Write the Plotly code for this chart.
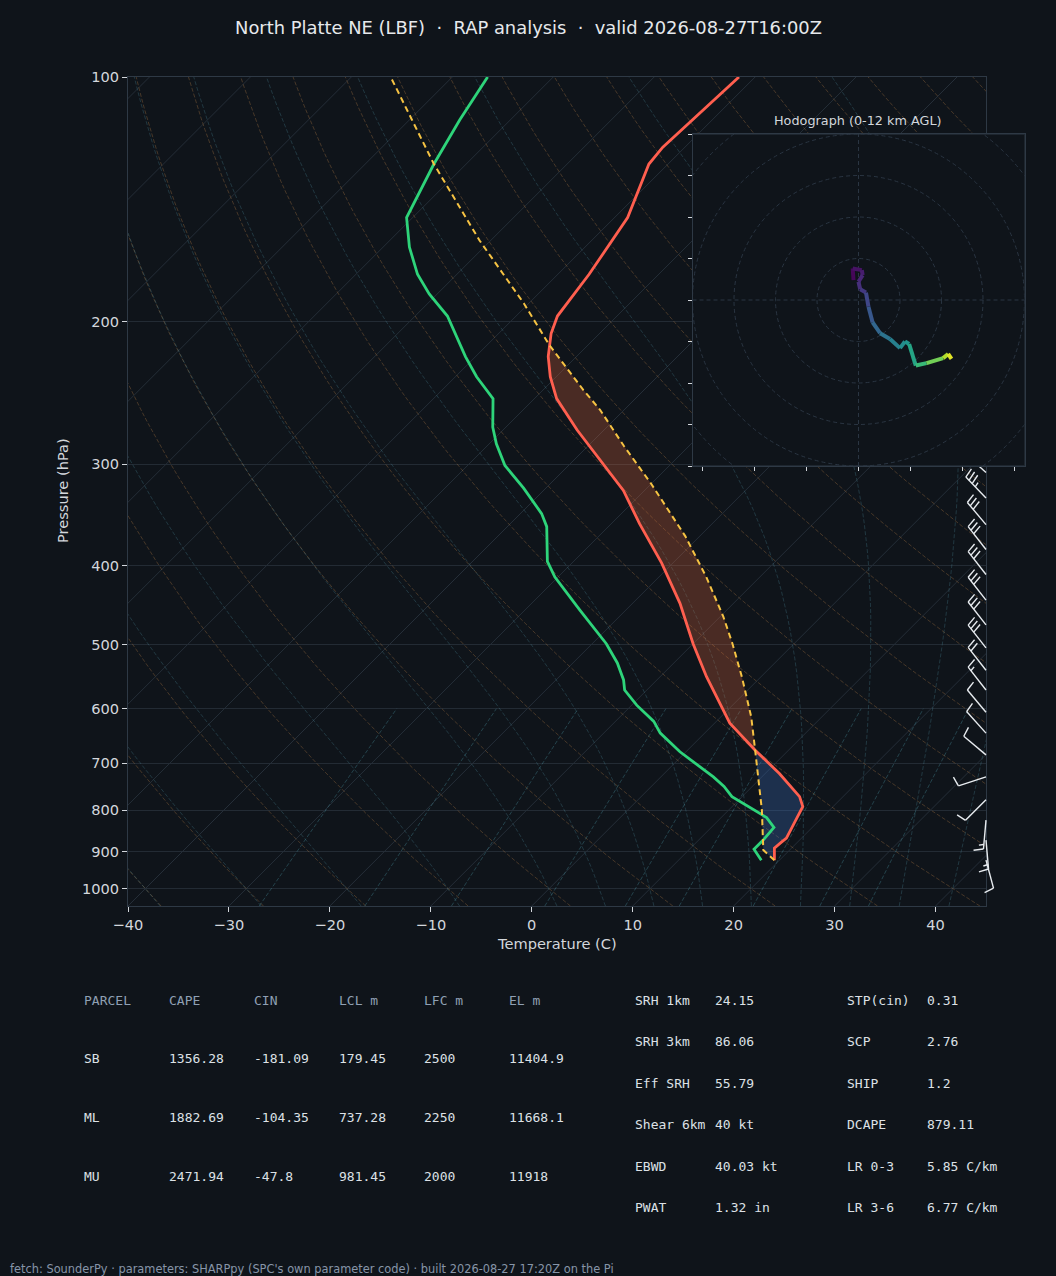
import numpy as np
import plotly.graph_objects as go
from plotly.colors import sample_colorscale

# ---------------------------------------------------------------------------
# LBF sounding, RAP analysis valid 2026-08-27 16Z
# ---------------------------------------------------------------------------
TITLE = ("North Platte NE (LBF)\u00a0\u00a0·\u00a0\u00a0RAP analysis"
         "\u00a0\u00a0·\u00a0\u00a0valid 2026-08-27T16:00Z")
FOOTER = ("fetch: SounderPy · parameters: SHARPpy (SPC's own parameter code)"
          " · built 2026-08-27 17:20Z on the Pi")

# environment temperature (hPa, C)
temp_p = [922, 891, 878, 866, 792, 770, 721, 675, 625, 548, 499, 445, 397, 355,
          323, 298, 272, 249, 234, 221, 214, 207, 197, 175, 149, 128, 122, 100]
temp_c = [19.5, 18.3, 18.4, 18.5, 17.0, 15.7, 11.4, 6.7, 1.5, -5.4, -10.0, -15.3,
          -21.1, -27.2, -32.1, -37.1, -42.7, -47.8, -50.6, -52.8, -53.8, -54.8,
          -55.9, -56.9, -58.7, -61.9, -62.2, -61.6]

# dewpoint (hPa, C)
dwpt_p = [922, 894, 871, 840, 817, 811, 770, 748, 728, 678, 643, 622, 594, 569,
          553, 527, 499, 454, 413, 395, 358, 345, 321, 301, 283, 270, 249, 234,
          221, 197, 185, 175, 162, 149, 128, 113, 100]
dwpt_c = [18.2, 16.4, 16.4, 16.2, 14.5, 13.8, 9.0, 7.2, 5.2, -0.6, -4.4, -6.2,
          -9.5, -12.2, -13.3, -15.6, -18.6, -24.5, -30.3, -32.6, -36.1, -37.9,
          -42.2, -46.3, -49.3, -51.3, -54.1, -57.9, -61.0, -66.8, -70.8, -73.9,
          -77.4, -80.6, -83.2, -85.0, -86.5]

# surface-based parcel path (hPa, C)
prcl_p = [922, 896, 800, 721, 675, 614, 548, 499, 462, 413, 368, 317, 285, 257,
          243, 214, 190, 159, 128, 100]
prcl_c = [19.5, 17.4, 13.3, 9.3, 6.7, 3.0, -1.9, -6.1, -9.7, -15.3, -21.4, -30.0,
          -36.4, -42.4, -46.0, -53.8, -60.5, -71.1, -83.2, -96.1]
LFC_P, EL_P = 675, 214

# wind barbs (hPa, direction deg, speed kt)
barb_p = [922, 871, 823, 777, 728, 684, 643, 606, 569, 538, 505, 473, 441, 410,
          382, 356, 330, 307, 285, 265, 246, 228, 212, 197, 183, 170, 158, 147,
          136, 126]
barb_dir = [165, 175, 185, 225, 252, 310, 318, 320, 322, 322, 322, 322, 322, 322,
            322, 320, 316, 312, 308, 305, 302, 300, 300, 300, 300, 300, 300, 300,
            300, 300]
barb_kt = [10, 15, 15, 10, 10, 10, 10, 10, 15, 20, 30, 30, 30, 30, 30, 30, 35, 40,
           45, 45, 50, 50, 50, 50, 45, 40, 35, 30, 30, 30]

# hodograph 0-12 km (m/s, km AGL)
hodo_u = [-1.2, -1.4, 0.8, 1.0, 0.0, 0.4, 1.8, 2.4, 3.4, 5.2, 7.6, 10.0, 11.2,
          12.2, 13.8, 16.4, 20.4, 21.6, 22.4]
hodo_v = [4.8, 7.6, 7.2, 6.0, 4.4, 2.6, 1.8, -1.6, -5.4, -8.0, -9.4, -11.6, -10.0,
          -10.6, -15.8, -15.2, -14.0, -13.0, -14.2]
hodo_z = [0.0, 0.4, 0.8, 1.1, 1.4, 1.8, 2.2, 2.9, 3.6, 4.2, 4.9, 5.6, 6.0, 6.4,
          7.6, 8.6, 10.2, 11.0, 12.0]

# parcel table
parcel_names = ["SB", "ML", "MU"]
parcel_cape = [1356.28, 1882.69, 2471.94]
parcel_cin = [-181.09, -104.35, -47.8]
parcel_lcl = [179.45, 737.28, 981.45]
parcel_lfc = [2500, 2250, 2000]
parcel_el = [11404.9, 11668.1, 11918]
parcel_cols = ["PARCEL", "CAPE", "CIN", "LCL m", "LFC m", "EL m"]

# SHARPpy indices
left_names = ["SRH 1km", "SRH 3km", "Eff SRH", "Shear 6km", "EBWD", "PWAT"]
left_vals = ["24.15", "86.06", "55.79", "40 kt", "40.03 kt", "1.32 in"]
right_names = ["STP(cin)", "SCP", "SHIP", "DCAPE", "LR 0-3", "LR 3-6"]
right_vals = ["0.31", "2.76", "1.2", "879.11", "5.85 C/km", "6.77 C/km"]

# ---------------------------------------------------------------------------
# layout / skew setup
# ---------------------------------------------------------------------------
W, H = 1056, 1276
PX_L, PX_R, PX_T, PX_B = 128, 986, 77, 906
P_BOT, P_TOP = 1050.0, 100.0
T_MIN, T_MAX = -40.0, 45.0
PPD = (PX_B - PX_T) / np.log10(P_BOT / P_TOP)   # px per decade of p
PPC = (PX_R - PX_L) / (T_MAX - T_MIN)           # px per degree C
SKEW = PPD / PPC                                 # isotherms at 45 deg

BG = "#0f141a"
FG = "#d3d7dc"
SPINE = "#2e3945"
GRID = "#232b34"
TICKFONT = 14.6

RD, CP, LV, EPS = 287.04749, 1004.6662, 2.50084e6, 0.62196


def sx(t, p):
    return np.asarray(t, float) + SKEW * np.log10(P_BOT / np.asarray(p, float))


def joined(curves):
    xs, ys = [], []
    for x, y in curves:
        xs += list(x) + [None]
        ys += list(y) + [None]
    return xs, ys


def pp(x, y):
    return x / W, 1 - y / H


fig = go.Figure()

# ---- background: isotherms, dry/moist adiabats, mixing ratio lines ----
iso = [(sx([t, t], [P_BOT, P_TOP]), [P_BOT, P_TOP]) for t in range(-120, 41, 10)]
x, y = joined(iso)
fig.add_trace(go.Scatter(x=x, y=y, mode="lines", line=dict(color="#252e38", width=1),
                         hoverinfo="skip"))

plev = np.geomspace(P_BOT, P_TOP, 80)
dry_t0 = np.arange(T_MIN, T_MAX + 201, 10)
dry = [(sx((t0 + 273.15) * (plev / 1000.0) ** (RD / CP) - 273.15, plev), plev)
       for t0 in dry_t0]
x, y = joined(dry)
fig.add_trace(go.Scatter(x=x, y=y, mode="lines",
                         line=dict(color="rgba(190,130,70,0.32)", width=1, dash="4px,2px"),
                         hoverinfo="skip"))


def moist_rate(t, lnp):
    p = np.exp(lnp)
    es = 6.112 * np.exp(17.67 * (t - 273.15) / (t - 29.65))
    rs = EPS * es / np.maximum(p - es, 1.0)
    return (RD * t + LV * rs) / (CP + LV * LV * rs * EPS / (RD * t * t))


def rk4(t_start, lnps):
    out = [t_start]
    t = t_start
    for a, b in zip(lnps[:-1], lnps[1:]):
        h = b - a
        k1 = moist_rate(t, a)
        k2 = moist_rate(t + h * k1 / 2, a + h / 2)
        k3 = moist_rate(t + h * k2 / 2, a + h / 2)
        k4 = moist_rate(t + h * k3, b)
        t = t + h * (k1 + 2 * k2 + 2 * k3 + k4) / 6
        out.append(t)
    return np.array(out)


moist_t0 = np.concatenate((np.arange(T_MIN, 0, 10), np.arange(0, 61, 5))) + 273.15
ln_up = np.linspace(np.log(1000.0), np.log(P_TOP), 241)
ln_dn = np.linspace(np.log(1000.0), np.log(P_BOT), 9)
t_up = rk4(moist_t0, ln_up)
t_dn = rk4(moist_t0, ln_dn)
ln_all = np.concatenate((ln_dn[::-1], ln_up[1:]))
t_all = np.concatenate((t_dn[::-1], t_up[1:]))
p_all = np.exp(ln_all)
moist = []
for k in range(len(moist_t0)):
    tk = t_all[:, k]
    ok = np.isfinite(tk)
    moist.append((sx(tk[ok] - 273.15, p_all[ok])[::4], p_all[ok][::4]))
x, y = joined(moist)
fig.add_trace(go.Scatter(x=x, y=y, mode="lines",
                         line=dict(color="rgba(80,150,170,0.27)", width=1, dash="4px,2px"),
                         hoverinfo="skip"))

mix_w = [0.0004, 0.001, 0.002, 0.004, 0.007, 0.01, 0.016, 0.024, 0.032]
pw = np.geomspace(P_BOT, 600.0, 20)
mix = []
for w in mix_w:
    e = pw * w / (EPS + w)
    lg = np.log(e / 6.112)
    mix.append((sx(243.5 * lg / (17.67 - lg), pw), pw))
x, y = joined(mix)
fig.add_trace(go.Scatter(x=x, y=y, mode="lines",
                         line=dict(color="rgba(80,160,175,0.33)", width=1, dash="4px,2px"),
                         hoverinfo="skip"))

# ---- CAPE / CIN shading ----
prp, prc = np.array(prcl_p, float), np.array(prcl_c, float)
tpp, tpc = np.array(temp_p, float), np.array(temp_c, float)

m_p = (prp <= LFC_P) & (prp >= EL_P)
m_t = (tpp <= LFC_P) & (tpp >= EL_P)
fig.add_trace(go.Scatter(
    x=np.concatenate((sx(prc[m_p], prp[m_p]), sx(tpc[m_t], tpp[m_t])[::-1])),
    y=np.concatenate((prp[m_p], tpp[m_t][::-1])),
    mode="lines", line=dict(width=0), fill="toself",
    fillcolor="rgba(212,100,59,0.30)", hoverinfo="skip"))

m_p = prp >= LFC_P
m_t = tpp >= LFC_P
fig.add_trace(go.Scatter(
    x=np.concatenate((sx(prc[m_p], prp[m_p]), sx(tpc[m_t], tpp[m_t])[::-1])),
    y=np.concatenate((prp[m_p], tpp[m_t][::-1])),
    mode="lines", line=dict(width=0), fill="toself",
    fillcolor="rgba(58,110,186,0.32)", hoverinfo="skip"))

# ---- profiles ----
fig.add_trace(go.Scatter(x=sx(temp_c, temp_p), y=temp_p, mode="lines",
                         line=dict(color="#ff5f4f", width=2.8), hoverinfo="skip"))
fig.add_trace(go.Scatter(x=sx(dwpt_c, dwpt_p), y=dwpt_p, mode="lines",
                         line=dict(color="#2ed47a", width=2.8), hoverinfo="skip"))
fig.add_trace(go.Scatter(x=sx(prcl_c, prcl_p), y=prcl_p, mode="lines",
                         line=dict(color="#f6c343", width=2, dash="6px,4px"),
                         hoverinfo="skip"))

# ---- wind barbs (own overlay axes so they are not clipped at the frame) ----
BARB_X = PX_R - PX_L
BARB_LEN, TICK_LEN, TICK_GAP = 29.0, 10.0, 4.5
LEAN = np.deg2rad(12)

bx, by, fx, fy = [], [], [], []


def put(points, xs, ys, p0):
    for ox, oy in points:
        xs.append(BARB_X + ox)
        ys.append(p0 * 10 ** (-oy / PPD))
    xs.append(None)
    ys.append(None)


for p0, wd, kt in zip(barb_p, barb_dir, barb_kt):
    a = np.deg2rad(wd)
    d = np.array([np.sin(a), np.cos(a)])
    perp = np.array([d[1], -d[0]])
    tick = np.cos(LEAN) * perp + np.sin(LEAN) * d
    put([(0, 0), tuple(d * BARB_LEN)], bx, by, p0)
    spd = int(5 * round(kt / 5))
    n50, rem = divmod(spd, 50)
    n10, rem = divmod(rem, 10)
    n5 = rem // 5
    s = BARB_LEN
    for _ in range(n50):
        w = 2 * TICK_GAP
        put([tuple(d * s), tuple(d * (s - w / 2) + TICK_LEN * perp), tuple(d * (s - w)),
             tuple(d * s)], fx, fy, p0)
        s -= w + TICK_GAP * 0.5
    for _ in range(n10):
        put([tuple(d * s), tuple(d * s + TICK_LEN * tick)], bx, by, p0)
        s -= TICK_GAP
    if n5:
        if n50 == 0 and n10 == 0:
            s -= TICK_GAP
        put([tuple(d * s), tuple(d * s + 0.5 * TICK_LEN * tick)], bx, by, p0)

fig.add_trace(go.Scatter(x=bx, y=by, mode="lines", xaxis="x2", yaxis="y2",
                         line=dict(color="#e8ecf0", width=1.4), hoverinfo="skip"))
if fx:
    fig.add_trace(go.Scatter(x=fx, y=fy, mode="lines", xaxis="x2", yaxis="y2",
                             fill="toself", fillcolor="#e8ecf0",
                             line=dict(color="#e8ecf0", width=1), hoverinfo="skip"))

# ---- hodograph inset ----
seg_c = sample_colorscale("Viridis",
                          [(hodo_z[i] + hodo_z[i + 1]) / 24.0 for i in range(len(hodo_z) - 1)])
for i in range(len(hodo_u) - 1):
    fig.add_trace(go.Scatter(x=hodo_u[i:i + 2], y=hodo_v[i:i + 2], mode="lines",
                             xaxis="x3", yaxis="y3",
                             line=dict(color=seg_c[i], width=4), hoverinfo="skip"))

shapes = [dict(type="rect", xref="x3", yref="y3", x0=-40, x1=40, y0=-40, y1=40,
               layer="below", fillcolor=BG, line=dict(color=SPINE, width=1))]
for r in range(10, 51, 10):
    shapes.append(dict(type="circle", xref="x3", yref="y3", x0=-r, x1=r, y0=-r, y1=r,
                       layer="below", line=dict(color="#2a3542", width=1, dash="4px,3px")))
shapes.append(dict(type="line", xref="x3", yref="y3", x0=-40, x1=40, y0=0, y1=0,
                   layer="below", line=dict(color="#2a3542", width=1, dash="4px,3px")))
shapes.append(dict(type="line", xref="x3", yref="y3", x0=0, x1=0, y0=-40, y1=40,
                   layer="below", line=dict(color="#2a3542", width=1, dash="4px,3px")))

# ---- text ----
ann = []


def label(x_px, y_px, text, size, color, anchor="left", family=None, angle=0):
    tx, ty = pp(x_px, y_px)
    f = dict(size=size, color=color)
    if family:
        f["family"] = family
    ann.append(dict(x=tx, y=ty, xref="paper", yref="paper", text=text, showarrow=False,
                    xanchor=anchor, yanchor="middle", textangle=angle, font=f))


label(W / 2, 27, TITLE, 17.9, "#e6e9ec", "center")
label(557, 943, "Temperature (C)", TICKFONT, FG, "center")
label(63, 491, "Pressure (hPa)", TICKFONT, FG, "center", angle=-90)
label(858, 120, "Hodograph (0-12 km AGL)", 12.8, FG, "center")
label(8, 1269, FOOTER, 11.4, "#8795a8")

MONO = "DejaVu Sans Mono"
col_x = [82, 167, 252, 337, 422, 507]
row_y = [1000, 1058, 1117, 1176]
for cx, name in zip(col_x, parcel_cols):
    label(cx, row_y[0], name, 13, "#8fa0b4", family=MONO)
for r, row in enumerate(zip(parcel_names, parcel_cape, parcel_cin, parcel_lcl,
                            parcel_lfc, parcel_el)):
    for cx, val in zip(col_x, row):
        label(cx, row_y[r + 1], str(val), 13, "#dde1e6", family=MONO)

idx_y = [1000, 1041, 1083, 1124, 1166, 1207]
for cx, col in zip([633, 713, 845, 925], [left_names, left_vals, right_names, right_vals]):
    for yy, val in zip(idx_y, col):
        label(cx, yy, val, 13, "#dde1e6", family=MONO)

# ---- axes ----
ydom = [1 - PX_B / H, 1 - PX_T / H]
p_ticks = list(range(100, 1001, 100))
fig.update_layout(
    width=W, height=H, margin=dict(l=0, r=0, t=0, b=0, pad=0),
    paper_bgcolor=BG, plot_bgcolor="rgba(0,0,0,0)", showlegend=False,
    font=dict(family="DejaVu Sans", color=FG, size=13),
    xaxis=dict(domain=[PX_L / W, PX_R / W], range=[T_MIN, T_MAX], automargin=False,
               tickvals=list(range(-40, 41, 10)), ticks="outside", ticklen=5,
               tickcolor=FG, showgrid=False, zeroline=False, showline=True, mirror=True,
               linecolor=SPINE, tickfont=dict(size=TICKFONT, color=FG)),
    yaxis=dict(domain=ydom, type="log", range=[np.log10(P_BOT), np.log10(P_TOP)],
               automargin=False,
               tickvals=p_ticks, ticktext=[str(v) for v in p_ticks], ticks="outside",
               ticklen=5, tickcolor=FG, showgrid=True, gridcolor=GRID, gridwidth=1,
               zeroline=False, showline=True, mirror=True, linecolor=SPINE,
               tickfont=dict(size=TICKFONT, color=FG)),
    xaxis2=dict(domain=[PX_L / W, 1050 / W], range=[0, 1050 - PX_L], anchor="y2",
                visible=False),
    yaxis2=dict(domain=ydom, type="log", range=[np.log10(P_BOT), np.log10(P_TOP)],
                anchor="x2", visible=False),
    xaxis3=dict(domain=[692.5 / W, 1024.5 / W], range=[-40, 40], anchor="y3",
                automargin=False,
                tickvals=[-37.5, -25, -12.5, 0, 12.5, 25, 37.5], ticks="outside",
                ticklen=4, tickcolor=FG, showticklabels=False, showgrid=False,
                zeroline=False, showline=True, mirror=True, linecolor=SPINE),
    yaxis3=dict(domain=[1 - 466 / H, 1 - 134 / H], range=[-40, 40], anchor="x3",
                automargin=False,
                tickvals=list(range(-40, 41, 10)), ticks="outside", ticklen=4,
                tickcolor=FG, showticklabels=False, showgrid=False, zeroline=False,
                showline=True, mirror=True, linecolor=SPINE),
    shapes=shapes,
    annotations=ann,
)

# page fills the window exactly (no default body margin), no mode bar
fig.write_html("out.html", config={"displayModeBar": False}, post_script=(
    "document.body.style.margin='0';"
    "document.body.style.background='#0f141a';"
    "document.documentElement.style.overflow='hidden';"))
